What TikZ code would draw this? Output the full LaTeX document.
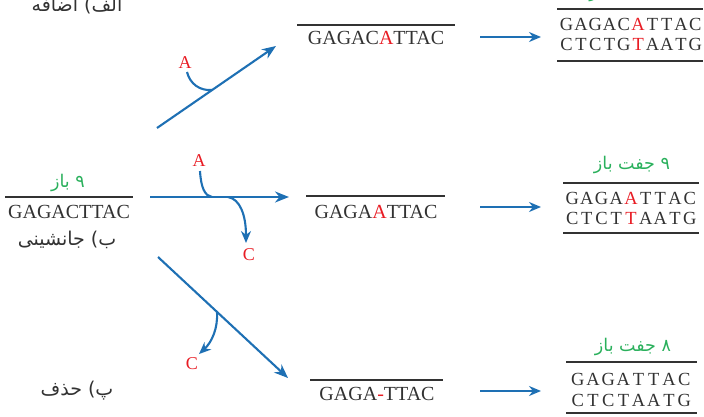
\documentclass[tikz,border=0pt]{standalone}
\usepackage{fontspec}
\setmainfont{Liberation Serif}
\newfontfamily\fa[Script=Arabic]{DejaVu Sans}
\TeXXeTstate=1
\usetikzlibrary{arrows.meta}

\definecolor{flow}{RGB}{30,112,180}
\definecolor{base}{RGB}{232,28,36}
\definecolor{pair}{RGB}{42,176,92}
\definecolor{ink}{RGB}{50,50,50}

% fixed-width cell so that paired bases line up
\newlength\cw
\newcommand\bx[1]{\makebox[\cw][c]{#1}}
\newcommand\rd[1]{\textcolor{base}{#1}}
\newcommand\rtl[1]{\beginR#1\endR}

\tikzset{
  seq/.style={font=\fontsize{20}{20}\selectfont, text=ink, anchor=base, inner sep=0pt},
  pairrow/.style={font=\fontsize{18.5}{18.5}\selectfont, text=ink, anchor=base, inner sep=0pt},
  rule/.style={draw=ink, line width=1.8pt},
  flow/.style={draw=flow, line width=2.1pt, -{Stealth[length=14pt,width=11pt]}},
  short/.style={draw=flow, line width=2.1pt, -{Stealth[length=12pt,width=10pt]}},
  branch/.style={draw=flow, line width=2.1pt},
  branchtip/.style={draw=flow, line width=2.1pt, -{Stealth[length=12pt,width=10pt]}},
  mut/.style={text=base, font=\fontsize{18}{18}\selectfont, inner sep=0pt},
  kind/.style={font=\fa\fontsize{19}{19}\selectfont, text=ink, inner sep=0pt},
  count/.style={font=\fa\fontsize{17.5}{17.5}\selectfont, text=pair, inner sep=0pt},
}

\begin{document}
\begin{tikzpicture}[x=1pt,y=-1pt]
\useasboundingbox (0,0) rectangle (704,417);
\clip (0,0) rectangle (704,417);

% ---------- original strand ----------
\node[count] (n9) at (68,183) {\rtl{۹ باز}};
\draw[rule] (5,197) coordinate (o1) -- (133,197) coordinate (o2);
\node[seq] (orig) at (69,218) {GAGACTTAC};
\node[kind] (kb) at (67,240) {\rtl{ب) جانشینی}};
\node[kind] (ka) at (77,6) {\rtl{الف) اضافه}};
\node[kind] (kp) at (77,391) {\rtl{پ) حذف}};

% ---------- insertion ----------
\coordinate (i0) at (157,128);
\coordinate (i1) at (276,46);
\coordinate (ij) at (212,90);
\node[mut] (iA) at (185,63) {A};
\draw[flow] (i0) -- (i1);
\draw[branch] (187,72) .. controls (190,84) and (200,91) .. (ij);

% ---------- substitution ----------
\coordinate (s0) at (150,197);
\coordinate (s1) at (289,197);
\coordinate (sj) at (212,197);
\coordinate (sk) at (228,197);
\node[mut] (sA) at (199,161) {A};
\node[mut] (sC) at (249,255) {C};
\draw[flow] (s0) -- (s1);
\draw[branch] (200,171) .. controls (201,188) and (205,196) .. (sj);
\draw[branchtip] (sk) .. controls (240,199) and (246,215) .. (246,243);

% ---------- deletion ----------
\coordinate (d0) at (158,257);
\coordinate (d1) at (288,378);
\coordinate (dj) at (217,312);
\node[mut] (dC) at (192,364) {C};
\draw[flow] (d0) -- (d1);
\draw[branchtip] (dj) .. controls (218,328) and (212,342) .. (199,354);

% ---------- mutated single strands ----------
\draw[rule] (297,25) -- (455,25);
\node[seq] (m1) at (376,45) {GAGAC\rd{A}TTAC};
\draw[rule] (306,196) -- (445,196);
\node[seq] (m2) at (376,218) {GAGA\rd{A}TTAC};
\draw[rule] (310,380) -- (443,380);
\node[seq] (m3) at (377,400) {GAGA\rd{-}TTAC};

% ---------- short arrows ----------
\coordinate (a1) at (480,37);  \coordinate (b1) at (541,37);
\coordinate (a2) at (480,207); \coordinate (b2) at (541,207);
\coordinate (a3) at (480,391); \coordinate (b3) at (541,391);
\draw[short] (a1) -- (b1);
\draw[short] (a2) -- (b2);
\draw[short] (a3) -- (b3);

% ---------- double strands ----------
\node[count] (c10) at (632,-7) {\rtl{۱۰ جفت باز}};
\draw[rule] (557,9) -- (703,9);
\node[pairrow] (r1a) at (631,31) {\setlength\cw{14.3pt}\bx G\bx A\bx G\bx A\bx C\bx{\rd A}\bx T\bx T\bx A\bx C};
\node[pairrow] (r1b) at (631,51) {\setlength\cw{14.3pt}\bx C\bx T\bx C\bx T\bx G\bx{\rd T}\bx A\bx A\bx T\bx G};
\draw[rule] (557,61) -- (703,61);

\node[count] (c9) at (632,165) {\rtl{۹ جفت باز}};
\draw[rule] (563,183) -- (699,183);
\node[pairrow] (r2a) at (631,204) {\setlength\cw{14.7pt}\bx G\bx A\bx G\bx A\bx{\rd A}\bx T\bx T\bx A\bx C};
\node[pairrow] (r2b) at (631,224) {\setlength\cw{14.7pt}\bx C\bx T\bx C\bx T\bx{\rd T}\bx A\bx A\bx T\bx G};
\draw[rule] (563,233) -- (699,233);

\node[count] (c8) at (633,347) {\rtl{۸ جفت باز}};
\draw[rule] (566,362) -- (697,362);
\node[pairrow] (r3a) at (631,385) {\setlength\cw{15.2pt}\bx G\bx A\bx G\bx A\bx T\bx T\bx A\bx C};
\node[pairrow] (r3b) at (631,406) {\setlength\cw{15.2pt}\bx C\bx T\bx C\bx T\bx A\bx A\bx T\bx G};
\draw[rule] (566,413) -- (697,413);
\end{tikzpicture}
\end{document}
